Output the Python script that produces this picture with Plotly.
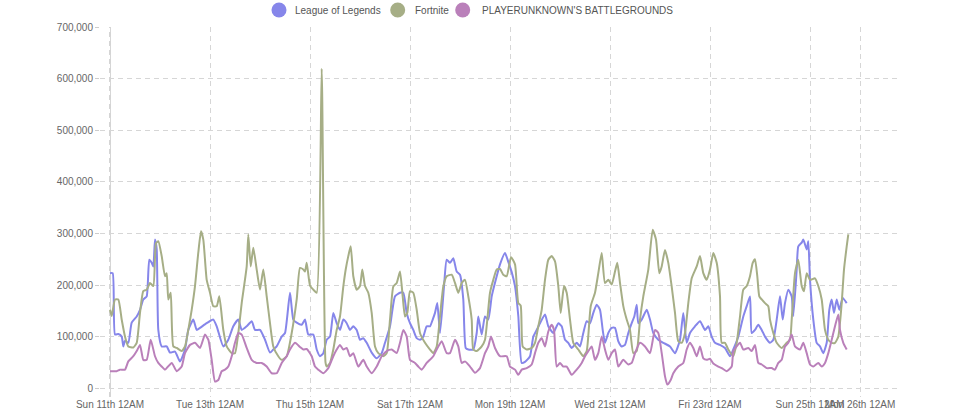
import pandas as pd
import plotly.graph_objects as go

START = pd.Timestamp("2018-03-11 00:00")

# ---- League of Legends: day offset from Sun 11th 12AM, players (thousands)
lol_days = [0, 0.054, 0.1, 0.166, 0.234, 0.266, 0.3, 0.366, 0.434, 0.534, 0.6, 0.666, 0.734, 0.786, 0.834, 0.866, 0.9, 0.934, 0.966,
            1.034, 1.134, 1.2, 1.3, 1.4, 1.5, 1.566, 1.666, 1.734, 1.8, 1.934, 2.066, 2.134, 2.266, 2.366, 2.466, 2.566, 2.634,
            2.734, 2.834, 2.9, 3.0, 3.1, 3.2, 3.266, 3.334, 3.434, 3.5, 3.6, 3.666, 3.734, 3.834, 3.9, 3.966, 4.066, 4.134, 4.2,
            4.266, 4.334, 4.4, 4.466, 4.534, 4.6, 4.666, 4.734, 4.8, 4.866, 4.934, 5.0, 5.066, 5.134, 5.234, 5.334, 5.434, 5.5,
            5.6, 5.7, 5.8, 5.866, 5.934, 6.0, 6.066, 6.134, 6.2, 6.266, 6.334, 6.4, 6.454, 6.5, 6.546, 6.6, 6.68, 6.734, 6.8,
            6.866, 6.934, 7.0, 7.066, 7.114, 7.166, 7.266, 7.334, 7.366, 7.434, 7.5, 7.566, 7.634, 7.734, 7.8, 7.9, 7.966, 8.034,
            8.1, 8.166, 8.234, 8.3, 8.4, 8.466, 8.534, 8.6, 8.7, 8.766, 8.866, 8.966, 9.034, 9.1, 9.166, 9.234, 9.334, 9.4,
            9.466, 9.534, 9.6, 9.666, 9.734, 9.8, 9.854, 9.9, 9.966, 10.034, 10.1, 10.166, 10.234, 10.3, 10.366, 10.434, 10.486,
            10.534, 10.566, 10.634, 10.734, 10.8, 10.866, 10.966, 11.066, 11.2, 11.3, 11.4, 11.466, 11.534, 11.6, 11.7, 11.8,
            11.9, 11.966, 12.034, 12.1, 12.2, 12.3, 12.4, 12.466, 12.566, 12.666, 12.734, 12.8, 12.834, 12.9, 12.966, 13.034,
            13.1, 13.2, 13.266, 13.334, 13.4, 13.454, 13.5, 13.566, 13.634, 13.666, 13.734, 13.766, 13.834, 13.866, 13.934,
            13.966, 14.0, 14.066, 14.134, 14.2, 14.266, 14.334, 14.386, 14.434, 14.48, 14.534, 14.586, 14.654, 14.734]
lol_vals = [223, 223, 104, 105, 100, 81, 92, 88, 127, 139, 152, 172, 178, 249, 243, 236, 288, 269, 113,
            81, 81, 69, 71, 52, 75, 113, 133, 113, 117, 126, 133, 120, 81, 94, 120, 133, 113,
            120, 130, 113, 113, 94, 69, 75, 81, 100, 107, 185, 133, 127, 123, 133, 104, 104, 75, 62,
            68, 94, 100, 146, 126, 113, 133, 126, 113, 120, 113, 94, 97, 88, 69, 58, 68, 88,
            120, 178, 185, 185, 146, 126, 113, 97, 94, 100, 120, 120, 133, 146, 165, 107, 197, 249, 243,
            252, 226, 220, 172, 78, 75, 75, 107, 139, 104, 139, 133, 178, 217, 240, 262, 245, 225,
            198, 140, 49, 51, 62, 100, 113, 126, 143, 120, 107, 126, 120, 94, 88, 78, 88, 81,
            107, 130, 126, 146, 162, 152, 113, 88, 107, 117, 117, 91, 81, 84, 107, 126, 139,
            162, 126, 133, 152, 133, 107, 94, 88, 81, 68, 94, 146, 88, 107, 120, 130,
            113, 120, 100, 88, 84, 78, 62, 75, 100, 139, 159, 178, 107, 113, 123, 113,
            100, 88, 94, 133, 178, 133, 165, 191, 178, 140, 230, 275, 282, 288, 269,
            285, 210, 133, 88, 81, 68, 88, 152, 172, 146, 172, 152, 175, 165]

# ---- Fortnite
fn_days = [0, 0.034, 0.1, 0.166, 0.234, 0.3, 0.366, 0.466, 0.534, 0.6, 0.666, 0.734, 0.8, 0.866, 0.92, 0.966, 1.034, 1.1,
           1.134, 1.166, 1.214, 1.266, 1.334, 1.434, 1.5, 1.566, 1.634, 1.7, 1.766, 1.82, 1.866, 1.934, 2.0, 2.066, 2.134,
           2.186, 2.266, 2.334, 2.434, 2.5, 2.566, 2.634, 2.734, 2.766, 2.814, 2.866, 2.934, 3.0, 3.066, 3.134, 3.2, 3.266,
           3.366, 3.434, 3.534, 3.634, 3.734, 3.8, 3.866, 3.9, 3.934, 4.0, 4.066, 4.134, 4.234, 4.31, 4.334, 4.4, 4.466,
           4.534, 4.6, 4.666, 4.714, 4.766, 4.814, 4.866, 4.934, 5.0, 5.046, 5.1, 5.166, 5.234, 5.3, 5.366, 5.466, 5.534,
           5.6, 5.666, 5.734, 5.8, 5.854, 5.9, 5.946, 6.0, 6.066, 6.134, 6.2, 6.3, 6.4, 6.466, 6.534, 6.6, 6.666, 6.734,
           6.834, 6.9, 6.966, 7.034, 7.1, 7.166, 7.234, 7.266, 7.334, 7.434, 7.5, 7.6, 7.666, 7.734, 7.8, 7.866, 7.934,
           8.02, 8.1, 8.166, 8.214, 8.254, 8.334, 8.434, 8.5, 8.566, 8.634, 8.7, 8.766, 8.834, 8.9, 8.966, 9.014, 9.08,
           9.134, 9.2, 9.266, 9.366, 9.466, 9.534, 9.614, 9.7, 9.766, 9.834, 9.9, 9.966, 10.034, 10.1, 10.146, 10.2,
           10.266, 10.334, 10.4, 10.466, 10.534, 10.6, 10.666, 10.766, 10.854, 10.92, 10.986, 11.034, 11.1, 11.166,
           11.234, 11.3, 11.366, 11.434, 11.5, 11.566, 11.634, 11.734, 11.8, 11.866, 11.934, 12.0, 12.066, 12.134, 12.2,
           12.234, 12.3, 12.366, 12.466, 12.534, 12.6, 12.666, 12.734, 12.8, 12.854, 12.9, 12.946, 12.986, 13.034, 13.1,
           13.166, 13.2, 13.266, 13.334, 13.434, 13.534, 13.6, 13.634, 13.7, 13.766, 13.834, 13.88, 13.934, 14.0, 14.1,
           14.166, 14.234, 14.3, 14.366, 14.434, 14.5, 14.566, 14.634, 14.68, 14.734, 14.766]
fn_vals = [152, 140, 172, 172, 133, 100, 81, 79, 88, 146, 188, 191, 204, 198, 281, 285, 256, 217,
           223, 172, 185, 81, 78, 72, 81, 113, 152, 198, 263, 304, 288, 210, 185, 159, 159,
           178, 113, 81, 68, 68, 107, 165, 236, 298, 236, 272, 230, 191, 230, 178, 126, 81,
           62, 55, 62, 107, 172, 233, 230, 226, 243, 199, 191, 185, 619, 50, 42, 49, 75,
           113, 139, 197, 230, 256, 275, 217, 191, 198, 230, 198, 185, 146, 81, 68, 62, 68,
           133, 197, 204, 226, 178, 139, 146, 188, 185, 152, 107, 88, 75, 68, 81, 139, 197, 217,
           220, 204, 185, 204, 210, 178, 133, 75, 72, 81, 94, 185, 210, 230, 231, 220, 217,
           254, 240, 165, 160, 81, 75, 78, 88, 120, 152, 210, 249, 256, 246, 198, 146, 198,
           185, 133, 88, 75, 62, 72, 159, 185, 223, 262, 204, 210, 201, 226, 243, 204,
           159, 133, 113, 68, 72, 133, 178, 230, 307, 288, 223, 236, 268, 243,
           197, 146, 91, 88, 107, 165, 213, 236, 256, 223, 210, 230, 262, 243, 178,
           88, 88, 75, 62, 88, 139, 191, 198, 217, 243, 250, 217, 178, 172, 165,
           159, 133, 107, 88, 78, 88, 94, 133, 223, 249, 198, 188, 223, 210, 213,
           198, 172, 113, 94, 88, 88, 100, 165, 230, 275, 298]

# ---- PLAYERUNKNOWN'S BATTLEGROUNDS
pubg_days = [0, 0.134, 0.2, 0.3, 0.366, 0.466, 0.534, 0.6, 0.666, 0.734, 0.814, 0.9, 0.966, 1.034, 1.1, 1.234, 1.334,
             1.434, 1.5, 1.6, 1.7, 1.8, 1.9, 1.966, 2.034, 2.1, 2.166, 2.234, 2.3, 2.366, 2.434, 2.5, 2.566, 2.634, 2.734,
             2.834, 2.934, 3.034, 3.134, 3.234, 3.334, 3.434, 3.534, 3.6, 3.7, 3.8, 3.866, 3.934, 4.034, 4.1, 4.166, 4.266,
             4.366, 4.466, 4.534, 4.6, 4.666, 4.734, 4.8, 4.866, 4.966, 5.066, 5.134, 5.234, 5.334, 5.434, 5.534, 5.634,
             5.734, 5.8, 5.866, 5.934, 6.0, 6.1, 6.166, 6.234, 6.334, 6.466, 6.534, 6.634, 6.734, 6.8, 6.9, 6.966, 7.034,
             7.1, 7.2, 7.3, 7.4, 7.5, 7.566, 7.62, 7.7, 7.8, 7.934, 8.0, 8.1, 8.166, 8.234, 8.334, 8.434, 8.5, 8.566, 8.634,
             8.7, 8.766, 8.834, 8.88, 8.934, 9.0, 9.066, 9.134, 9.234, 9.334, 9.434, 9.5, 9.566, 9.634, 9.7, 9.766, 9.834,
             9.9, 9.966, 10.034, 10.1, 10.166, 10.266, 10.366, 10.434, 10.5, 10.6, 10.7, 10.8, 10.9, 10.966, 11.034, 11.1,
             11.146, 11.214, 11.266, 11.366, 11.466, 11.534, 11.6, 11.666, 11.734, 11.8, 11.866, 11.934, 12.0, 12.066,
             12.166, 12.234, 12.334, 12.434, 12.466, 12.534, 12.6, 12.666, 12.766, 12.834, 12.9, 12.966, 13.034, 13.134,
             13.234, 13.3, 13.366, 13.434, 13.5, 13.566, 13.634, 13.7, 13.8, 13.866, 13.934, 14.0, 14.066, 14.166, 14.234,
             14.3, 14.366, 14.434, 14.5, 14.566, 14.6, 14.666, 14.734]
pubg_vals = [33, 33, 36, 36, 52, 62, 72, 84, 55, 55, 94, 62, 49, 42, 36, 49, 33,
             42, 68, 84, 88, 78, 104, 94, 55, 13, 16, 33, 36, 42, 62, 88, 107, 104, 78,
             55, 49, 49, 42, 29, 29, 49, 62, 75, 88, 80, 75, 76, 62, 42, 36, 29,
             39, 62, 75, 84, 75, 78, 62, 68, 42, 55, 42, 29, 42, 62, 72, 75,
             68, 88, 113, 100, 55, 49, 42, 36, 49, 62, 75, 91, 68, 68, 94, 81, 49,
             52, 42, 30, 39, 68, 81, 100, 78, 62, 62, 42, 36, 26, 36, 39, 46, 68, 88, 97,
             81, 110, 123, 113, 42, 49, 42, 42, 26, 36, 49, 62, 72, 81, 55, 68, 100,
             75, 55, 68, 75, 42, 55, 46, 49, 68, 88, 81, 68, 113, 107, 68, 23,
             7, 16, 29, 42, 49, 75, 88, 78, 62, 81, 58, 55, 57, 48,
             42, 39, 33, 42, 72, 81, 88, 75, 78, 72, 84, 49, 46, 39,
             39, 36, 49, 55, 81, 88, 104, 81, 75, 88, 68, 46, 42, 49, 42,
             49, 68, 94, 120, 143, 113, 88, 75]

series_names = ["League of Legends", "Fortnite", "PLAYERUNKNOWN'S BATTLEGROUNDS"]
series_colors = ["#8686ea", "#a6ae86", "#ba80ba"]

tick_days = [0, 2, 4, 6, 8, 10, 12, 14, 15]
tick_labels = ["Sun 11th 12AM", "Tue 13th 12AM", "Thu 15th 12AM", "Sat 17th 12AM", "Mon 19th 12AM",
               "Wed 21st 12AM", "Fri 23rd 12AM", "Sun 25th 12AM", "Mon 26th 12AM"]
y_ticks = [0, 100000, 200000, 300000, 400000, 500000, 600000, 700000]

# legend layout (pixel positions in the 960x408 canvas)
W, H = 960, 408
M_L, M_R, M_T, M_B = 100, 60, 27, 11
legend_marker_px = [279, 397.7, 462.7]
legend_text_px = [293, 413, 480]
legend_y_px = 10


def to_time(days):
    return [START + pd.Timedelta(days=d) for d in days]


def px_to_paper_x(px):
    return (px - M_L) / (W - M_L - M_R)


def px_to_paper_y(py):
    return (H - M_B - py) / (H - M_T - M_B)


fig = go.Figure()
for days, vals, name, col in [(lol_days, lol_vals, series_names[0], series_colors[0]),
                              (fn_days, fn_vals, series_names[1], series_colors[1]),
                              (pubg_days, pubg_vals, series_names[2], series_colors[2])]:
    fig.add_trace(go.Scatter(x=to_time(days), y=[v * 1000 for v in vals], mode="lines", name=name,
                             line=dict(color=col, width=2, shape="spline", smoothing=0.5),
                             showlegend=False, hoverinfo="x+y+name"))

# darker dashed axis line at the start
fig.add_shape(type="line", xref="x", yref="paper", x0=START, x1=START, y0=0, y1=1,
              line=dict(color="#aaaaaa", width=1, dash="5px,4px"), layer="below")

# custom legend (circle + label), placed like the original
yl = px_to_paper_y(legend_y_px)
for name, col, mx, tx in zip(series_names, series_colors, legend_marker_px, legend_text_px):
    fig.add_shape(type="circle", xref="paper", yref="paper", xsizemode="pixel", ysizemode="pixel",
                  xanchor=px_to_paper_x(mx), yanchor=yl, x0=-7.5, x1=7.5, y0=-7.5, y1=7.5,
                  fillcolor=col, line=dict(width=0))
    fig.add_annotation(xref="paper", yref="paper", x=px_to_paper_x(tx), y=yl, text=name,
                       showarrow=False, xanchor="left", yanchor="middle",
                       font=dict(size=10, color="#555555"))

font_family = "Arial, 'Liberation Sans', sans-serif"
fig.update_layout(
    width=W, height=H,
    margin=dict(l=M_L, r=M_R, t=M_T, b=M_B, pad=0, autoexpand=False),
    paper_bgcolor="white", plot_bgcolor="rgba(0,0,0,0)",
    font=dict(family=font_family, size=10, color="#666666"),
    showlegend=False,
    xaxis=dict(type="date", range=[START - pd.Timedelta(days=0.2), START + pd.Timedelta(days=15.8)],
               tickvals=to_time(tick_days), ticktext=tick_labels, tickangle=0,
               showgrid=True, gridcolor="#d6d6d6", griddash="5px,4px", gridwidth=1,
               zeroline=False, showline=False, ticks="", ticklabelstandoff=0,
               tickfont=dict(size=10, color="#666666")),
    yaxis=dict(range=[-17000, 700000], tickvals=y_ticks, tickformat=",d",
               showgrid=True, gridcolor="#d6d6d6", griddash="5px,4px", gridwidth=1,
               zeroline=False, showline=False, ticks="outside", ticklen=4, tickcolor="#cccccc",
               tickfont=dict(size=10, color="#666666")),
    hovermode="closest",
)

fig.write_html("out.html", config={"displayModeBar": False},
               post_script="document.body.style.margin='0px';document.body.style.overflow='hidden';")
